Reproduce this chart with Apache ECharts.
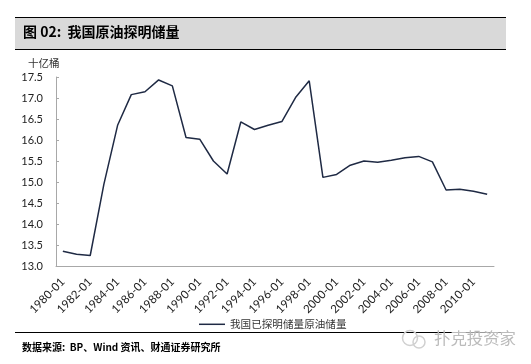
<!DOCTYPE html>
<html>
<head>
<meta charset="utf-8">
<script src="https://cdn.jsdelivr.net/npm/echarts@6/dist/echarts.min.js"></script>
<style>
html, body { margin: 0; padding: 0; background: #fff; }
#chart { width: 531px; height: 364px; }
</style>
</head>
<body>
<div id="chart"></div>
<script>
// 年份与储量（十亿桶）
var years = ['1980-01','1981-01','1982-01','1983-01','1984-01','1985-01','1986-01','1987-01',
    '1988-01','1989-01','1990-01','1991-01','1992-01','1993-01','1994-01','1995-01',
    '1996-01','1997-01','1998-01','1999-01','2000-01','2001-01','2002-01','2003-01',
    '2004-01','2005-01','2006-01','2007-01','2008-01','2009-01','2010-01','2011-01'];
var reserves = [13.35, 13.28, 13.25, 14.95, 16.35, 17.08, 17.15, 17.43,
    17.29, 16.06, 16.02, 15.5, 15.19, 16.43, 16.25, 16.35,
    16.44, 17.01, 17.41, 15.11, 15.18, 15.4, 15.5, 15.47,
    15.52, 15.58, 15.61, 15.48, 14.81, 14.83, 14.78, 14.71];
var seriesName = '我国已探明储量原油储量';
var titleText = '图 02:  我国原油探明储量';
var sourceText = '数据来源:  BP、Wind 资讯、财通证券研究所';
var unitText = '十亿桶';
var markText = '扑克投资家';

var cjk = '"Noto Sans CJK SC", sans-serif';
var chart = echarts.init(document.getElementById('chart'));

chart.setOption({
    animation: false,
    backgroundColor: '#fff',
    grid: { left: 56, top: 77, width: 438, height: 189, containLabel: false },
    legend: {
        data: [seriesName],
        left: 194, top: 314,
        itemWidth: 26, itemHeight: 1.5, itemGap: 3,
        icon: 'rect',
        textStyle: { color: '#333', fontSize: 10.6, fontFamily: cjk }
    },
    xAxis: {
        type: 'category',
        data: years,
        boundaryGap: true,
        axisLine: { lineStyle: { color: '#a8a8a8', width: 1 } },
        axisTick: { interval: 1, length: 3, lineStyle: { color: '#a8a8a8' } },
        axisLabel: {
            interval: 1, rotate: 45, margin: 14,
            color: '#222', fontSize: 11.5, fontFamily: 'Lato, sans-serif'
        }
    },
    yAxis: {
        type: 'value',
        min: 13, max: 17.5, interval: 0.5,
        axisLine: { show: true, lineStyle: { color: '#a8a8a8', width: 1 } },
        axisTick: { show: true, length: 3, inside: true, lineStyle: { color: '#a8a8a8' } },
        splitLine: { show: false },
        axisLabel: {
            margin: 13, color: '#222', fontSize: 11,
            fontFamily: 'Lato, sans-serif',
            formatter: function (v) { return v.toFixed(1); }
        }
    },
    series: [{
        name: seriesName,
        type: 'line',
        data: reserves,
        symbol: 'none',
        lineStyle: { color: '#1f2a44', width: 1.5 },
        itemStyle: { color: '#1f2a44' }
    }],
    graphic: [
        // 标题栏
        { type: 'rect', z: 0, shape: { x: 15, y: 18, width: 491, height: 31 }, style: { fill: '#d9d9d9' } },
        { type: 'line', shape: { x1: 15, y1: 17.5, x2: 506, y2: 17.5 }, style: { stroke: '#000', lineWidth: 1 } },
        { type: 'line', shape: { x1: 15, y1: 49.5, x2: 506, y2: 49.5 }, style: { stroke: '#000', lineWidth: 1 } },
        { type: 'text', style: { x: 23, y: 25, text: titleText, fill: '#000', font: 'bold 14px ' + cjk } },
        { type: 'text', style: { x: 28, y: 58, text: unitText, fill: '#333', font: '10.5px ' + cjk } },
        // 底部
        { type: 'line', shape: { x1: 15, y1: 332.5, x2: 460, y2: 332.5 }, style: { stroke: '#000', lineWidth: 1 } },
        { type: 'line', shape: { x1: 460, y1: 332.5, x2: 506, y2: 332.5 }, style: { stroke: '#999', lineWidth: 1 } },
        { type: 'text', style: { x: 22, y: 342, text: sourceText, fill: '#000', font: 'bold 10px ' + cjk } },
        // 水印
        { type: 'circle', shape: { cx: 410, cy: 338, r: 7.5 }, style: { fill: 'none', stroke: '#d0d0d0', lineWidth: 1.5 } },
        { type: 'circle', shape: { cx: 419, cy: 342, r: 6 }, style: { fill: 'none', stroke: '#d0d0d0', lineWidth: 1.5 } },
        { type: 'text', style: { x: 434, y: 330, text: markText, fill: '#bbb', font: '16.4px ' + cjk } }
    ]
});
</script>
</body>
</html>
